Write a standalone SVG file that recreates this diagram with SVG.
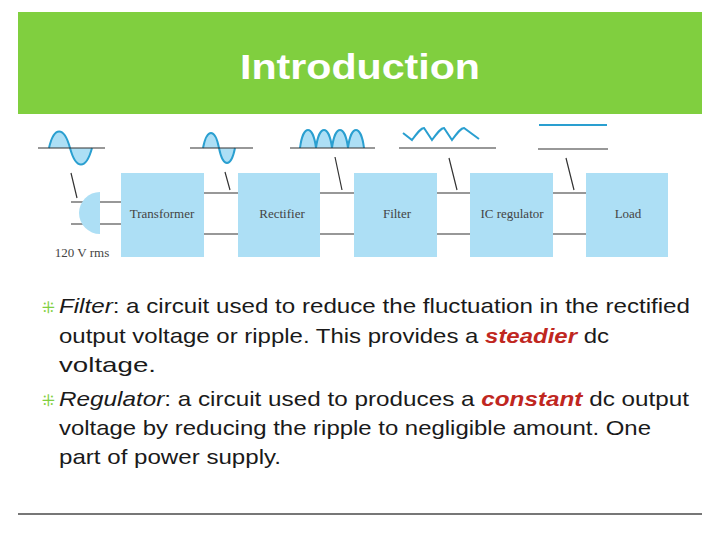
<svg xmlns="http://www.w3.org/2000/svg" width="720" height="540" viewBox="0 0 720 540">
<style>
.box{fill:#addff5}
.w{stroke:#333;stroke-width:1.2;fill:none}
.wave{stroke:#2a9fd0;stroke-width:2;fill:#addff5}
.bl{font-family:"Liberation Serif",serif;font-size:13px;fill:#444;text-anchor:middle}
.t{font-family:"Liberation Sans",Arial,sans-serif;font-size:21px;fill:#1a1a1a}
.em{fill:#c0271f;font-weight:bold;font-style:italic}
.it{font-style:italic}
</style>
<rect width="720" height="540" fill="#fff"/>
<rect x="18" y="12" width="684" height="102" fill="#80cf3f"/>
<text x="240" y="79" textLength="240" lengthAdjust="spacingAndGlyphs" font-family="Liberation Sans,Arial,sans-serif" font-weight="bold" font-size="35" fill="#fff">Introduction</text>
<g id="connectors">
<path class="w" d="M71 202H121M71 224H121M204 193H238M204 234H238M320 193H354M320 234H354M437 193H470M437 234H470M553 193H586M553 234H586"/>
<path class="w" d="M71 173L77 198M225 172L230 190M335 157L342 190M449 158L457 190M566 158L574 190"/>
</g>
<g id="waves">
<path d="M100 192A21 21 0 0 0 100 234Z" fill="#addff5"/>
<path class="wave" d="M49 148C54 126 64 126 70 148C76 170 86 170 92 148"/>
<path class="w" d="M38 148H105"/>
<path class="wave" d="M203 148C207 128 215 128 219 148C223 168 231 168 235 148"/>
<path class="w" d="M190 148H253"/>
<path class="wave" d="M300 148C303 124 313 124 316 148C319 124 329 124 332 148C335 124 345 124 348 148C351 124 361 124 364 148"/>
<path class="w" d="M290 148H375"/>
<path d="M403 133L412 140C418 132 421 128 424 128L432 140C438 132 441 128 444 128L452 140C458 132 461 128 464 128L479 139" stroke="#2a9fd0" stroke-width="2" fill="none"/>
<path class="w" d="M399 148H496"/>
<path d="M539 125H607" stroke="#2a9fd0" stroke-width="2"/>
<path class="w" d="M538 149H608"/>
</g>
<g id="transformer"><rect class="box" x="121" y="173" width="83" height="84"/><text class="bl" x="162" y="218">Transformer</text></g>
<g id="rectifier"><rect class="box" x="238" y="173" width="82" height="84"/><text class="bl" x="282" y="218">Rectifier</text></g>
<g id="filter"><rect class="box" x="354" y="173" width="83" height="84"/><text class="bl" x="397" y="218">Filter</text></g>
<g id="ic"><rect class="box" x="470" y="173" width="83" height="84"/><text class="bl" x="512" y="218">IC regulator</text></g>
<g id="load"><rect class="box" x="586" y="173" width="82" height="84"/><text class="bl" x="628" y="218">Load</text></g>
<text class="bl" x="82" y="257">120 V rms</text>
<g class="t">
<text x="42" y="313" fill="#80cf3f" font-size="16">⁜</text>
<text x="42" y="406" fill="#80cf3f" font-size="16">⁜</text>
<text x="59" y="313" textLength="631" lengthAdjust="spacingAndGlyphs"><tspan class="it">Filter</tspan>: a circuit used to reduce the fluctuation in the rectified</text>
<text x="59" y="343" textLength="550" lengthAdjust="spacingAndGlyphs">output voltage or ripple. This provides a <tspan class="em">steadier</tspan> dc</text>
<text x="59" y="372" textLength="97" lengthAdjust="spacingAndGlyphs">voltage.</text>
<text x="59" y="406" textLength="630" lengthAdjust="spacingAndGlyphs"><tspan class="it">Regulator</tspan>: a circuit used to produces a <tspan class="em">constant</tspan> dc output</text>
<text x="59" y="435" textLength="592" lengthAdjust="spacingAndGlyphs">voltage by reducing the ripple to negligible amount. One</text>
<text x="59" y="464" textLength="222" lengthAdjust="spacingAndGlyphs">part of power supply.</text>
</g>
<line x1="18" y1="514" x2="702" y2="514" stroke="#777" stroke-width="2"/>
</svg>
